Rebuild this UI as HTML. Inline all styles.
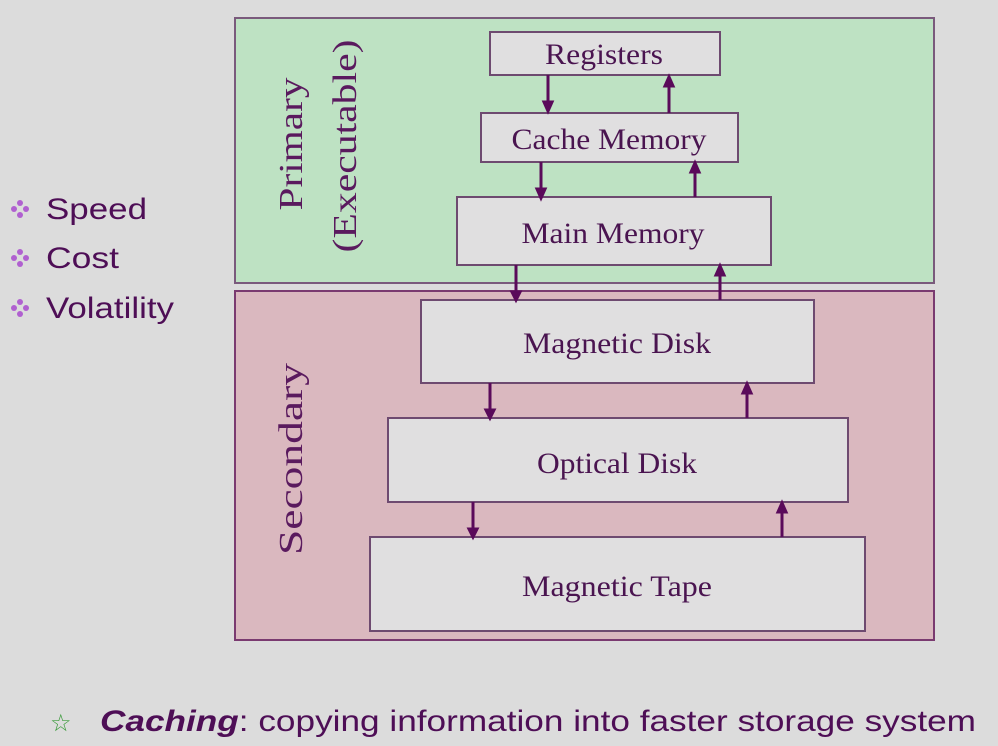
<!DOCTYPE html>
<html><head><style>
html,body{margin:0;padding:0;background:#dcdcdc;}
svg{display:block;}
</style></head><body>
<svg width="998" height="746" viewBox="0 0 998 746" xmlns="http://www.w3.org/2000/svg">
<rect width="998" height="746" fill="#dcdcdc"/>
<rect x="235" y="18" width="699" height="265" fill="#bee2c3" stroke="#7a5a7c" stroke-width="2"/>
<rect x="235" y="291" width="699" height="349" fill="#dab8bf" stroke="#7a3a70" stroke-width="2"/>
<g fill="#e0dfe0" stroke="#6e4a70" stroke-width="2">
<rect x="490" y="32" width="230" height="43"/>
<rect x="481" y="113" width="257" height="49"/>
<rect x="457" y="197" width="314" height="68"/>
<rect x="421" y="300" width="393" height="83"/>
<rect x="388" y="418" width="460" height="84"/>
<rect x="370" y="537" width="495" height="94"/>
</g>
<g stroke="#5a0a5a" stroke-width="3" fill="#5a0a5a">
<line x1="548" y1="75" x2="548" y2="104"/><polygon points="544,102 552,102 548,111"/>
<line x1="669" y1="113" x2="669" y2="84"/><polygon points="665,86 673,86 669,77"/>
<line x1="541" y1="162" x2="541" y2="191"/><polygon points="537,189 545,189 541,198"/>
<line x1="695" y1="197" x2="695" y2="170"/><polygon points="691,172 699,172 695,163"/>
<line x1="516" y1="265" x2="516" y2="294"/><polygon points="512,292 520,292 516,300"/>
<line x1="720" y1="300" x2="720" y2="273"/><polygon points="716,275 724,275 720,266"/>
<line x1="490" y1="383" x2="490" y2="412"/><polygon points="486,410 494,410 490,418"/>
<line x1="747" y1="418" x2="747" y2="391"/><polygon points="743,393 751,393 747,384"/>
<line x1="473" y1="502" x2="473" y2="531"/><polygon points="469,529 477,529 473,537"/>
<line x1="782" y1="537" x2="782" y2="510"/><polygon points="778,512 786,512 782,503"/>
</g>
<g font-family="Liberation Serif, serif" font-size="30" fill="#4a1450" text-anchor="middle">
<text x="604" y="64" textLength="118" lengthAdjust="spacingAndGlyphs">Registers</text>
<text x="609" y="149" textLength="195" lengthAdjust="spacingAndGlyphs">Cache Memory</text>
<text x="613" y="243" textLength="183" lengthAdjust="spacingAndGlyphs">Main Memory</text>
<text x="617" y="353" textLength="188" lengthAdjust="spacingAndGlyphs">Magnetic Disk</text>
<text x="617" y="473" textLength="160" lengthAdjust="spacingAndGlyphs">Optical Disk</text>
<text x="617" y="596" textLength="190" lengthAdjust="spacingAndGlyphs">Magnetic Tape</text>
</g>
<g font-family="Liberation Serif, serif" font-size="34" fill="#5a1a5e" text-anchor="middle">
<text transform="translate(302,144) rotate(-90)" textLength="133" lengthAdjust="spacingAndGlyphs">Primary</text>
<text transform="translate(356,146) rotate(-90)" textLength="213" lengthAdjust="spacingAndGlyphs">(Executable)</text>
<text transform="translate(302,459) rotate(-90)" textLength="192" lengthAdjust="spacingAndGlyphs">Secondary</text>
</g>
<g font-family="Liberation Sans, sans-serif" font-size="30" fill="#4e0e56">
<text x="46" y="219" textLength="101" lengthAdjust="spacingAndGlyphs">Speed</text>
<text x="46" y="268" textLength="73" lengthAdjust="spacingAndGlyphs">Cost</text>
<text x="46" y="318" textLength="128" lengthAdjust="spacingAndGlyphs">Volatility</text>
</g>
<g fill="#b060d0">
<circle cx="20" cy="203" r="3"/><circle cx="20" cy="215" r="3"/><circle cx="14" cy="209" r="3"/><circle cx="26" cy="209" r="3"/>
<circle cx="20" cy="252" r="3"/><circle cx="20" cy="264" r="3"/><circle cx="14" cy="258" r="3"/><circle cx="26" cy="258" r="3"/>
<circle cx="20" cy="302" r="3"/><circle cx="20" cy="314" r="3"/><circle cx="14" cy="308" r="3"/><circle cx="26" cy="308" r="3"/>
</g>
<text x="50" y="731" font-family="DejaVu Sans, sans-serif" font-size="24" fill="#3a9a3a">☆</text>
<text x="100" y="731" font-family="Liberation Sans, sans-serif" font-size="30" fill="#4e0e56" textLength="876" lengthAdjust="spacingAndGlyphs"><tspan font-weight="bold" font-style="italic">Caching</tspan>: copying information into faster storage system</text>
</svg>
</body></html>
